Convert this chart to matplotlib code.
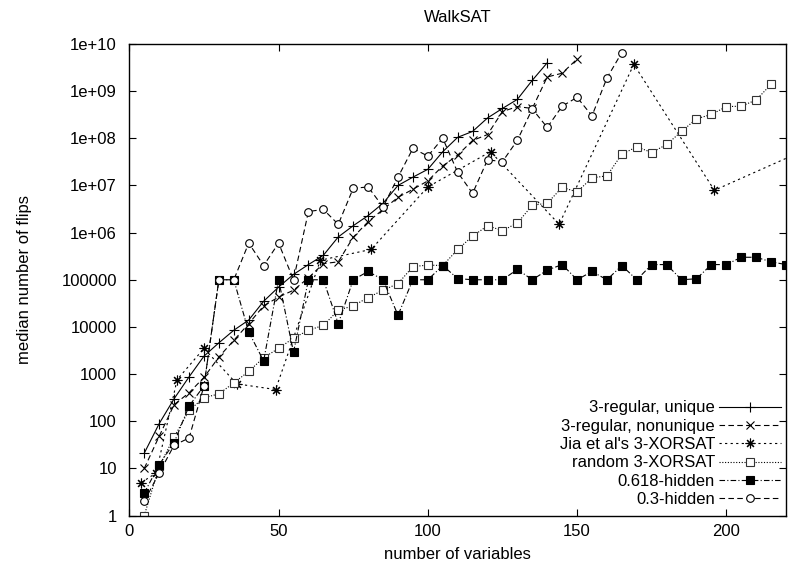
import matplotlib
matplotlib.use("Agg")
import matplotlib.pyplot as plt
import numpy as np

plt.rcParams['font.family'] = ['Liberation Sans', 'DejaVu Sans']
plt.rcParams['font.size'] = 12

# data
x_unique = list(range(5, 145, 5))
y_unique = [21, 89, 300, 870, 2400, 4600, 8500, 14000, 35000, 70000, 130000,
            210000, 330000, 810000, 1.4e6, 2.3e6, 4.2e6, 1e7, 1.5e7, 2.2e7,
            5.2e7, 1.05e8, 1.4e8, 2.7e8, 4.3e8, 6.7e8, 1.7e9, 4e9]

x_nonunique = list(range(5, 155, 5))
y_nonunique = [10, 48, 225, 400, 850, 2300, 5200, 11700, 28000, 43000, 60000,
               1.1e5, 2.2e5, 2.4e5, 8e5, 1.7e6, 3.1e6, 5.6e6, 8.3e6, 1.25e7,
               2.6e7, 4.4e7, 9e7, 1.2e8, 3.7e8, 4.7e8, 4.3e8, 2e9, 2.4e9, 4.8e9]

x_jia = [4, 9, 16, 25, 36, 49, 64, 81, 100, 121, 144, 169, 196, 225]
y_jia = [5, 8, 760, 3500, 620, 470, 2.6e5, 4.4e5, 9.3e6, 5.2e7, 1.5e6, 3.7e9,
         7.9e6, 5.2e7]

x_random = list(range(5, 220, 5))
y_random = [1, 11, 46, 170, 315, 380, 650, 1140, 2230, 3500, 5800, 8500, 10800,
            22600, 28000, 42000, 60000, 83000, 1.9e5, 2.05e5, 2e5, 4.4e5,
            8.4e5, 1.4e6, 1.1e6, 1.6e6, 3.8e6, 4.2e6, 9.1e6, 7.3e6, 1.45e7,
            1.6e7, 4.6e7, 6.6e7, 5e7, 7.4e7, 1.4e8, 2.6e8, 3.2e8, 4.7e8,
            4.8e8, 6.5e8, 1.4e9]

x_618 = list(range(5, 225, 5))
y_618 = [3, 12, 35, 210, 560, 1e5, 1e5, 7800, 1900, 1e5, 2900, 1e5, 1e5,
         11700, 1e5, 1.5e5, 1e5, 17700, 1e5, 1e5, 2e5, 1.06e5, 1e5, 1e5, 1e5,
         1.66e5, 1e5, 1.6e5, 2.1e5, 1e5, 1.5e5, 1e5, 2e5, 1e5, 2.1e5, 2.1e5,
         1e5, 1.05e5, 2.1e5, 2.1e5, 3e5, 3e5, 2.4e5, 2.1e5]

x_03 = list(range(5, 170, 5))
y_03 = [2, 8, 31, 44, 560, 1e5, 1e5, 6e5, 2e5, 6e5, 1e5, 2.8e6, 3.1e6, 1.5e6,
        8.7e6, 9.3e6, 3.5e6, 1.5e7, 6.1e7, 4.2e7, 1e8, 1.9e7, 6.8e6, 3.5e7,
        3.2e7, 9.1e7, 4.2e8, 1.7e8, 4.8e8, 7.4e8, 3e8, 1.9e9, 6.6e9]

labels = ["3-regular, unique", "3-regular, nonunique", "Jia et al's 3-XORSAT",
          "random 3-XORSAT", "0.618-hidden", "0.3-hidden"]

fig = plt.figure(figsize=(7.93, 5.73), dpi=100)
ax = fig.add_axes([0.1631, 0.1003, 0.8281, 0.8229])

lw = 0.8
ax.plot(x_unique, y_unique, color='black', lw=lw, marker='+', ms=7, mew=lw,
        label=labels[0])
ax.plot(x_nonunique, y_nonunique, color='black', lw=lw, dashes=(5, 3),
        marker='x', ms=6, mew=lw, label=labels[1])
ax.plot(x_jia, y_jia, color='black', lw=lw, dashes=(2, 3), marker=(8, 2, 0),
        ms=7, mew=lw, label=labels[2])
ax.plot(x_random, y_random, color='black', lw=lw, dashes=(1, 1.5), marker='s',
        ms=5.5, mew=lw, mfc='white', mec='#333333', label=labels[3])
ax.plot(x_618, y_618, color='black', lw=lw, dashes=(5, 2, 1, 2), marker='s',
        ms=5.5, mew=lw, mfc='black', label=labels[4])
ax.plot(x_03, y_03, color='black', lw=lw, dashes=(5, 3), marker='o',
        ms=5.5, mew=lw, mfc='white', label=labels[5])

ax.set_yscale('log')
ax.set_xlim(0, 220)
ax.set_ylim(1, 1e10)
ax.set_xticks([0, 50, 100, 150, 200])
yt = [10 ** k for k in range(11)]
ytl = [str(10 ** k) if k < 6 else "1e+%02d" % k for k in range(11)]
ax.set_yticks(yt)
ax.set_yticklabels(ytl)
ax.minorticks_off()
ax.tick_params(direction='in', length=5, width=0.8, top=True, right=True,
               labelsize=12)
ax.tick_params(axis='x', pad=6)
ax.tick_params(axis='y', pad=9)
for s in ax.spines.values():
    s.set_linewidth(1.0)

ax.set_title("WalkSAT", fontsize=12, pad=16)
ax.set_xlabel("number of variables", fontsize=12, labelpad=6)
ax.set_ylabel("median number of flips", fontsize=12, labelpad=21)

# gnuplot-style key: text right-aligned, sample line on the right
ax.legend(loc='lower right', bbox_to_anchor=(0.992, 0.018),
          frameon=False, markerfirst=False, numpoints=1,
          handlelength=3.7, handletextpad=0.25, labelspacing=0.2,
          borderpad=0.0, borderaxespad=0.0, fontsize=12)

fig.savefig("out.png", dpi=100)
